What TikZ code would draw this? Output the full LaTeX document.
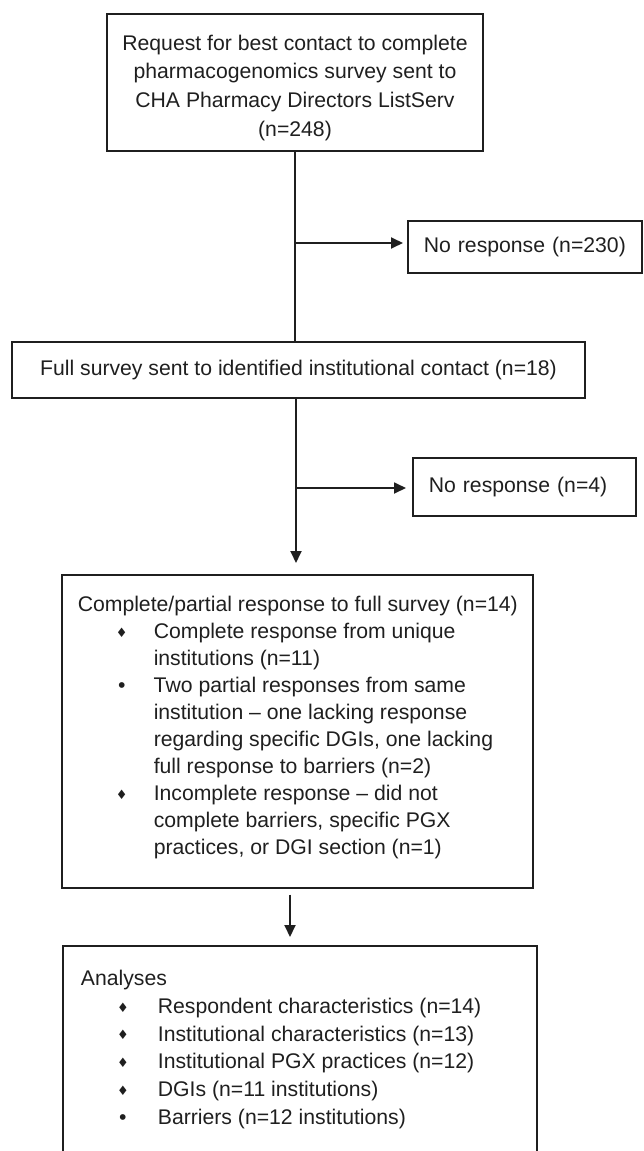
\documentclass[tikz,border=0pt]{standalone}
\usepackage{fontspec}
\setmainfont{Liberation Sans}
\newfontfamily\symfont{DejaVu Sans}
\usetikzlibrary{arrows.meta}

\newcommand{\flowfont}{\fontsize{10.6}{13.5}\selectfont}
\newcommand{\dmd}{{\symfont\fontsize{6.5}{6.5}\selectfont\raisebox{0.6pt}{♦}}}
\newcommand{\dotb}{•}
\newlength{\bulpos}
\newlength{\txtpos}
\newcommand{\flowitem}[2]{\par\hangindent=\txtpos\hangafter=1\noindent\hbox to \txtpos{\hskip\bulpos\makebox[0pt]{#1}\hfil}#2\par}

\tikzset{
	flowbox/.style={draw, rectangle, line width=0.75pt, font=\flowfont, color=black!88},
	>={Triangle[length=6pt,width=5.5pt]},
}

\begin{document}
\begin{tikzpicture}[x=0.5pt,y=-0.5pt,line width=0.9pt,color=black!88]
	\useasboundingbox (0,0) rectangle (643,1151);
	% boxes
	\node[flowbox, anchor=north, inner sep=0pt] (request) at (295,13) {\parbox[c][68.5pt][t]{188pt}{\fontsize{10.6}{14.4}\selectfont\centering
		\hbox{}\vskip3.8pt
		Request for best contact to complete\\pharmacogenomics survey sent to\\CHA Pharmacy Directors ListServ\\(n=248)\par}};
	\node[flowbox, anchor=west, text width=101pt, inner xsep=8pt, minimum height=26pt] (noresp1) at (407,247) {\mbox{No response (n=230)}};
	\node[flowbox, minimum width=286.5pt, minimum height=28pt] (fullsurvey) at (298.5,370) {Full survey sent to identified institutional contact (n=18)};
	\node[flowbox, anchor=west, text width=95.5pt, inner xsep=8pt, minimum height=29pt] (noresp2) at (412,487) {\mbox{No response (n=4)}};
	\node[flowbox, anchor=north west, inner sep=0pt] (partial) at (61,574) {\parbox[c][156.5pt][t]{235.5pt}{\flowfont\raggedright
		\setlength{\bulpos}{30pt}\setlength{\txtpos}{46pt}%
		\hbox{}\vskip5pt
		\noindent\hspace*{8pt}Complete/partial response to full survey (n=14)\par
		\flowitem{\dmd}{Complete response from unique\newline institutions (n=11)}
		\flowitem{\dotb}{Two partial responses from same\newline institution – one lacking response\newline regarding specific DGIs, one lacking\newline full response to barriers (n=2)}
		\flowitem{\dmd}{Incomplete response – did not\newline complete barriers, specific PGX\newline practices, or DGI section (n=1)}}};
	\node[anchor=north west, inner sep=0pt, font=\flowfont] (analyses) at (63,946) {\parbox[c][102.5pt][t]{236pt}{\fontsize{10.6}{13.9}\selectfont\raggedright
		\setlength{\bulpos}{29.5pt}\setlength{\txtpos}{47pt}%
		\hbox{}\vskip5.4pt
		\noindent\hspace*{8.5pt}Analyses\par
		\flowitem{\dmd}{Respondent characteristics (n=14)}
		\flowitem{\dmd}{Institutional characteristics (n=13)}
		\flowitem{\dmd}{Institutional PGX practices (n=12)}
		\flowitem{\dmd}{DGIs (n=11 institutions)}
		\flowitem{\dotb}{Barriers (n=12 institutions)}}};
	\path[draw, line width=0.75pt] (analyses.south west) |- (analyses.north east) -- (analyses.south east);

	% connectors
	\coordinate (split1) at (295,243);
	\coordinate (split2) at (296,488);
	\coordinate (split3) at (290,887);
	\path[draw] (request.south) -- (request.south |- fullsurvey.north);
	\path[draw,->,shorten >=2pt] (split1) -- (noresp1.west |- split1);
	\path[draw,->,shorten >=5.5pt] (fullsurvey.south -| split2) -- (split2 |- partial.north);
	\path[draw,->,shorten >=3pt] (split2) -- (noresp2.west |- split2);
	\path[draw,->,shorten <=3pt,shorten >=4.5pt] (partial.south -| split3) -- (split3 |- analyses.north);
\end{tikzpicture}
\end{document}
